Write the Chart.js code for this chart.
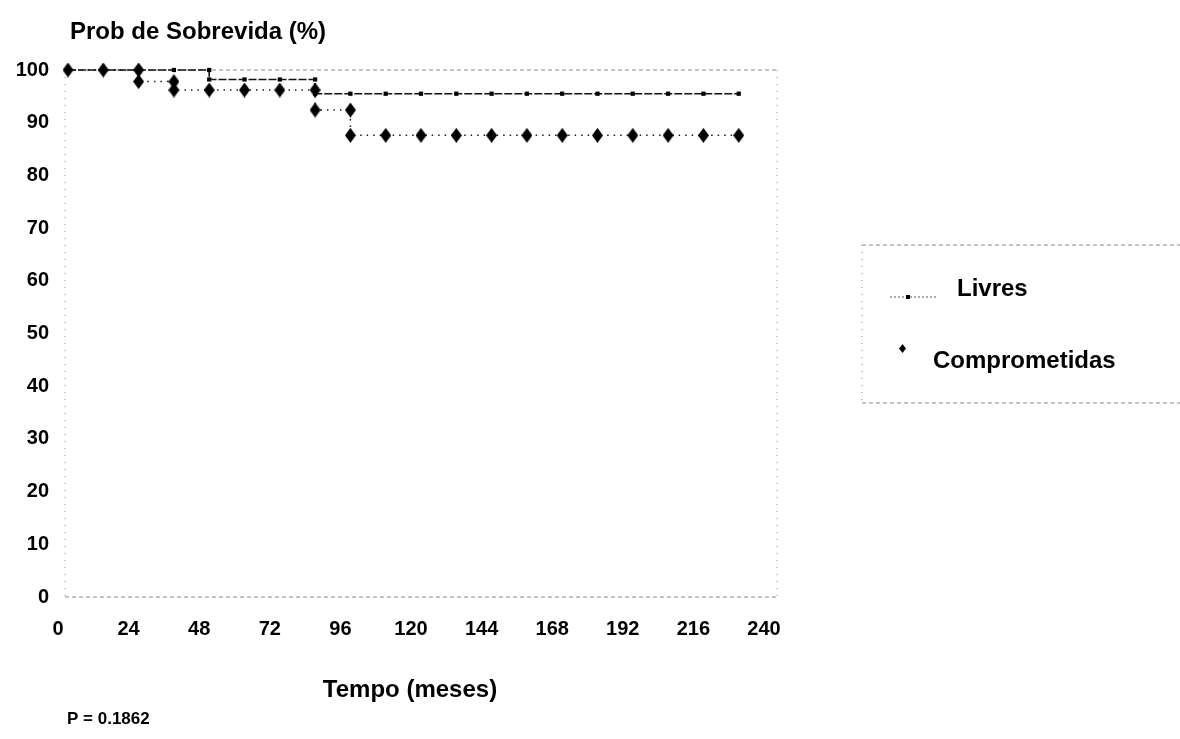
<!DOCTYPE html>
<html>
<head>
<meta charset="utf-8">
<title>Prob de Sobrevida</title>
<script src="https://cdn.jsdelivr.net/npm/chart.js@4.4.0/dist/chart.umd.min.js"></script>
<style>
  html, body { margin: 0; padding: 0; background: #fff; }
  #wrap { width: 1180px; height: 739px; }
</style>
</head>
<body>
<div id="wrap"><canvas id="myChart" width="1180" height="739"></canvas></div>
<script>
// eixos
const tempoTicks = [0, 24, 48, 72, 96, 120, 144, 168, 192, 216, 240];
const probTicks = [0, 10, 20, 30, 40, 50, 60, 70, 80, 90, 100];

// curva Livres (Kaplan-Meier, meses x %)
const livresTempo = [0, 12, 24, 36, 48, 48, 60, 72, 84, 84, 96, 108, 120, 132, 144, 156, 168, 180, 192, 204, 216, 228];
const livresProb  = [100, 100, 100, 100, 100, 98.2, 98.2, 98.2, 98.2, 95.5, 95.5, 95.5, 95.5, 95.5, 95.5, 95.5, 95.5, 95.5, 95.5, 95.5, 95.5, 95.5];

// curva Comprometidas
const compTempo = [0, 12, 24, 24, 36, 36, 48, 60, 72, 84, 84, 96, 96, 108, 120, 132, 144, 156, 168, 180, 192, 204, 216, 228];
const compProb  = [100, 100, 100, 97.8, 97.8, 96.2, 96.2, 96.2, 96.2, 96.2, 92.4, 92.4, 87.6, 87.6, 87.6, 87.6, 87.6, 87.6, 87.6, 87.6, 87.6, 87.6, 87.6, 87.6];

const FONT = "'Liberation Sans', Arial, Helvetica, sans-serif";

function toPoints(xs, ys) {
  return xs.map((x, i) => ({ x: x, y: ys[i] }));
}

// losango um pouco mais alto que largo
function makeDiamond(w, h) {
  const c = document.createElement('canvas');
  c.width = w; c.height = h;
  const g = c.getContext('2d');
  g.fillStyle = '#000';
  g.beginPath();
  g.moveTo(w / 2, 0);
  g.lineTo(w, h / 2);
  g.lineTo(w / 2, h);
  g.lineTo(0, h / 2);
  g.closePath();
  g.fill();
  return c;
}
const diamond = makeDiamond(11, 15);
const diamondSmall = makeDiamond(7, 9);

// moldura pontilhada, textos soltos e legenda
const extras = {
  id: 'extras',
  beforeDatasetsDraw(chart) {
    const { ctx, chartArea: a } = chart;
    ctx.save();
    ctx.strokeStyle = '#8a8a8a';
    ctx.lineWidth = 1;
    ctx.setLineDash([4, 3]);
    ctx.beginPath();
    ctx.moveTo(a.left - 3, a.top); ctx.lineTo(a.right + 3, a.top);
    ctx.moveTo(a.left - 3, a.bottom); ctx.lineTo(a.right + 3, a.bottom);
    ctx.stroke();
    ctx.setLineDash([1, 6]);
    ctx.beginPath();
    ctx.moveTo(a.left - 3, a.top); ctx.lineTo(a.left - 3, a.bottom);
    ctx.moveTo(a.right + 3, a.top); ctx.lineTo(a.right + 3, a.bottom);
    ctx.stroke();
    ctx.restore();
  },
  afterDraw(chart) {
    const ctx = chart.ctx;
    const ds = chart.data.datasets;
    ctx.save();
    ctx.fillStyle = '#000';
    ctx.textBaseline = 'middle';

    ctx.font = 'bold 24px ' + FONT;
    ctx.textAlign = 'left';
    ctx.fillText('Prob de Sobrevida (%)', 70, 32);

    ctx.textAlign = 'center';
    ctx.fillText('Tempo (meses)', 410, 690);

    ctx.textAlign = 'left';
    ctx.font = 'bold 17px ' + FONT;
    ctx.fillText('P = 0.1862', 67, 719);

    // caixa da legenda
    ctx.strokeStyle = '#8a8a8a';
    ctx.lineWidth = 1;
    ctx.setLineDash([4, 3]);
    ctx.beginPath();
    ctx.moveTo(862, 245); ctx.lineTo(1180, 245);
    ctx.moveTo(862, 403); ctx.lineTo(1180, 403);
    ctx.stroke();
    ctx.setLineDash([1, 6]);
    ctx.beginPath();
    ctx.moveTo(862, 245); ctx.lineTo(862, 403);
    ctx.stroke();

    // Livres
    ctx.setLineDash([2, 2]);
    ctx.strokeStyle = '#555';
    ctx.lineWidth = 1.2;
    ctx.beginPath();
    ctx.moveTo(890, 297); ctx.lineTo(937, 297);
    ctx.stroke();
    ctx.setLineDash([]);
    ctx.fillStyle = '#000';
    ctx.fillRect(906, 295, 4, 4);

    ctx.font = 'bold 24px ' + FONT;
    ctx.fillText(ds[0].label, 957, 289);

    // Comprometidas
    ctx.drawImage(diamondSmall, 899, 344);
    ctx.fillText(ds[1].label, 933, 361);
    ctx.restore();
  }
};

const config = {
  type: 'line',
  data: {
    datasets: [
      {
        label: 'Livres',
        data: toPoints(livresTempo, livresProb),
        borderColor: '#111',
        borderWidth: 1.6,
        borderDash: [8, 2],
        pointStyle: 'rect',
        pointRadius: 3,
        pointBackgroundColor: '#000',
        pointBorderColor: '#000',
        pointBorderWidth: 0,
        fill: false,
        tension: 0,
        clip: false,
        order: 1
      },
      {
        label: 'Comprometidas',
        data: toPoints(compTempo, compProb),
        borderColor: '#1a1a1a',
        borderWidth: 1.5,
        borderDash: [1.5, 5],
        pointStyle: diamond,
        pointRadius: 7,
        fill: false,
        tension: 0,
        clip: false,
        order: 0
      }
    ]
  },
  options: {
    responsive: false,
    animation: false,
    layout: { padding: { top: 70, right: 406, bottom: 0, left: 0 } },
    scales: {
      x: {
        type: 'linear',
        min: 0,
        max: 240,
        afterFit: (s) => { s.height = 142; },
        afterBuildTicks: (s) => { s.ticks = tempoTicks.map(v => ({ value: v })); },
        grid: { display: false, drawTicks: false },
        border: { display: false },
        ticks: {
          color: '#000',
          font: { family: FONT, size: 20, weight: 'bold' },
          padding: 20,
          labelOffset: -10,
          maxRotation: 0,
          autoSkip: false
        }
      },
      y: {
        type: 'linear',
        min: 0,
        max: 100,
        afterFit: (s) => { s.width = 68; },
        afterBuildTicks: (s) => { s.ticks = probTicks.map(v => ({ value: v })); },
        grid: { display: false, drawTicks: false },
        border: { display: false },
        ticks: {
          color: '#000',
          font: { family: FONT, size: 20, weight: 'bold' },
          padding: 19,
          autoSkip: false
        }
      }
    },
    plugins: {
      legend: { display: false },
      tooltip: { enabled: false }
    }
  },
  plugins: [extras]
};

const ctx = document.getElementById('myChart').getContext('2d');
const myChart = new Chart(ctx, config);
</script>
</body>
</html>
